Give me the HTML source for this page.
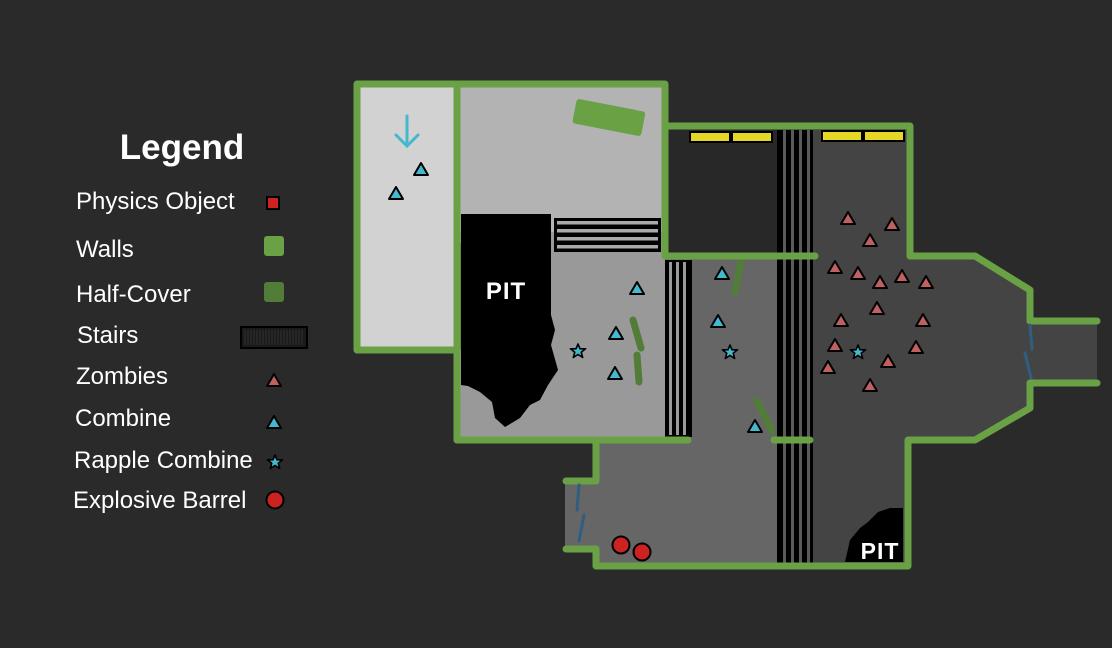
<!DOCTYPE html>
<html><head><meta charset="utf-8"><style>
html,body{margin:0;padding:0;background:#2a2a2a;}
svg{display:block}
text{font-family:"Liberation Sans",sans-serif;fill:#fff}
</style></head><body>
<svg width="1112" height="648" viewBox="0 0 1112 648" xmlns="http://www.w3.org/2000/svg">
<defs>
<g id="z"><polygon points="0,-7 7,5 -7,5" fill="#c06060" stroke="#000" stroke-width="2" stroke-linejoin="round"/></g>
<g id="c"><polygon points="0,-7 7,5 -7,5" fill="#45b8d0" stroke="#000" stroke-width="2" stroke-linejoin="round"/></g>
<g id="s"><polygon points="0,-7 2,-2.2 7.6,-2.2 3.2,1.2 4.7,6.5 0,3.4 -4.7,6.5 -3.2,1.2 -7.6,-2.2 -2,-2.2" fill="#45b8d0" stroke="#000" stroke-width="1.6" stroke-linejoin="round"/></g>
</defs>
<rect width="1112" height="648" fill="#2a2a2a"/>

<!-- floors -->
<rect x="357" y="84" width="100" height="266" fill="#d2d2d2"/>
<rect x="457" y="84" width="208" height="150" fill="#b3b3b3"/>
<rect x="457" y="232" width="208" height="208" fill="#999"/>
<rect x="665" y="256" width="113" height="184" fill="#666"/>
<rect x="596" y="440" width="216" height="126" fill="#666"/>
<rect x="565" y="481" width="35" height="68" fill="#666"/>
<rect x="812" y="130" width="98" height="436" fill="#444"/>
<polygon points="812,256 975,256 1030,290 1030,321 1097,321 1097,383 1030,383 1030,408 975,440 812,440" fill="#444"/>
<rect x="668" y="130" width="110" height="126" fill="#282828"/>

<!-- pit -->
<polygon points="461,214 551,214 551,315 555,330 551,345 558,370 548,385 540,400 530,405 520,418 505,427 495,418 492,402 480,392 468,386 461,385" fill="#000"/>
<text x="506" y="299" font-size="24" font-weight="bold" text-anchor="middle" letter-spacing="1">PIT</text>
<path d="M845,562 L850,540 L860,528 L868,522 L878,512 L890,508 L903,508 L903,562 Z" fill="#000"/>
<text x="880" y="559" font-size="23" font-weight="bold" text-anchor="middle" letter-spacing="1">PIT</text>

<!-- horizontal stairs -->
<rect x="554" y="218" width="107" height="34" fill="#000"/>
<g fill="#aaa"><rect x="557" y="221" width="101" height="3.5"/><rect x="557" y="229" width="101" height="3.5"/><rect x="557" y="237" width="101" height="3.5"/><rect x="557" y="245" width="101" height="3.5"/></g>
<!-- vertical stairs left -->
<rect x="665" y="260" width="27" height="177" fill="#000"/>
<g fill="#999"><rect x="669" y="262" width="3" height="173"/><rect x="676" y="262" width="3" height="173"/><rect x="683" y="262" width="3" height="173"/></g>
<!-- vertical stairs big -->
<rect x="777" y="130" width="36" height="433" fill="#000"/>
<g fill="#5a5a5a"><rect x="783" y="130" width="3" height="433"/><rect x="791" y="130" width="3" height="433"/><rect x="799" y="130" width="3" height="433"/><rect x="807" y="130" width="3" height="433"/></g>

<!-- yellow -->
<g fill="#e6d628" stroke="#000" stroke-width="2">
<rect x="690" y="132" width="40" height="10"/><rect x="732" y="132" width="40" height="10"/>
<rect x="822" y="131" width="40" height="10"/><rect x="864" y="131" width="40" height="10"/>
</g>

<!-- half-cover -->
<rect x="454" y="243" width="7" height="107" fill="#527d38"/>
<g stroke="#527d38" stroke-width="7" stroke-linecap="round" fill="none">
<line x1="741" y1="262" x2="735" y2="292"/>
<line x1="757" y1="401" x2="772" y2="431"/>
<line x1="633" y1="320" x2="641" y2="348"/>
<line x1="637" y1="355" x2="639" y2="382"/>
</g>
<rect x="574" y="105" width="70" height="25" rx="3" fill="#6aa145" transform="rotate(11 609 117)"/>

<!-- walls -->
<g stroke="#6aa145" stroke-width="7" stroke-linecap="round" stroke-linejoin="round" fill="none">
<polyline points="457,350 357,350 357,84 665,84 665,256"/>
<line x1="457" y1="84" x2="457" y2="440"/>
<line x1="457" y1="440" x2="688" y2="440"/>
<line x1="774" y1="440" x2="810" y2="440"/>
<line x1="665" y1="256" x2="815" y2="256"/>
<polyline points="665,126 910,126 910,256 975,256 1030,290 1030,321 1097,321"/>
<polyline points="1097,383 1030,383 1030,408 975,440 908,440 908,566 596,566 596,549 566,549"/>
<polyline points="566,481 596,481 596,440"/>
</g>
<!-- doors -->
<g stroke="#2f5f80" stroke-width="3" stroke-linecap="round">
<line x1="1030" y1="325" x2="1032" y2="349"/><line x1="1025" y1="353" x2="1031" y2="378"/>
<line x1="579" y1="485" x2="577" y2="510"/><line x1="584" y1="515" x2="579" y2="541"/>
</g>

<!-- arrow -->
<g stroke="#45b8d0" stroke-width="3" fill="none" stroke-linecap="round">
<line x1="407" y1="116" x2="407" y2="146"/><polyline points="396,135 407,146 418,135"/>
</g>

<!-- barrels -->
<g fill="#cc2222" stroke="#000" stroke-width="2"><circle cx="621" cy="545" r="8.5"/><circle cx="642" cy="552" r="8.5"/></g>

<!-- zombies -->
<use href="#z" x="848" y="219"/><use href="#z" x="892" y="225"/><use href="#z" x="870" y="241"/>
<use href="#z" x="835" y="268"/><use href="#z" x="858" y="274"/><use href="#z" x="880" y="283"/>
<use href="#z" x="902" y="277"/><use href="#z" x="926" y="283"/><use href="#z" x="877" y="309"/>
<use href="#z" x="841" y="321"/><use href="#z" x="923" y="321"/><use href="#z" x="835" y="346"/>
<use href="#z" x="916" y="348"/><use href="#z" x="888" y="362"/><use href="#z" x="828" y="368"/>
<use href="#z" x="870" y="386"/>
<!-- combine -->
<use href="#c" x="421" y="170"/><use href="#c" x="396" y="194"/><use href="#c" x="637" y="289"/>
<use href="#c" x="616" y="334"/><use href="#c" x="615" y="374"/><use href="#c" x="722" y="274"/>
<use href="#c" x="718" y="322"/><use href="#c" x="755" y="427"/>
<use href="#s" x="578" y="351"/><use href="#s" x="730" y="352"/><use href="#s" x="858" y="352"/>

<!-- legend -->
<text x="182" y="159" font-size="35" font-weight="bold" text-anchor="middle">Legend</text>
<g font-size="24">
<text x="76" y="209">Physics Object</text>
<text x="76" y="257">Walls</text>
<text x="76" y="302">Half-Cover</text>
<text x="77" y="343">Stairs</text>
<text x="76" y="384">Zombies</text>
<text x="75" y="426">Combine</text>
<text x="74" y="468">Rapple Combine</text>
<text x="73" y="508">Explosive Barrel</text>
</g>
<rect x="267" y="197" width="12" height="12" fill="#cc2222" stroke="#000" stroke-width="2"/>
<rect x="264" y="236" width="20" height="20" rx="3" fill="#6aa145"/>
<rect x="264" y="282" width="20" height="20" rx="3" fill="#527d38"/>
<rect x="241" y="327" width="66" height="21" fill="#1a1a1a" stroke="#000" stroke-width="2"/>
<g stroke="#333" stroke-width="1"><path d="M245,330V345M248,330V345M251,330V345M254,330V345M257,330V345M260,330V345M263,330V345M266,330V345M269,330V345M272,330V345M275,330V345M278,330V345M281,330V345M284,330V345M287,330V345M290,330V345M293,330V345M296,330V345M299,330V345M302,330V345"/></g>
<use href="#z" x="274" y="381"/>
<use href="#c" x="274" y="423"/>
<use href="#s" x="275" y="462"/>
<circle cx="275" cy="500" r="8.5" fill="#cc2222" stroke="#000" stroke-width="2"/>
</svg>
</body></html>
